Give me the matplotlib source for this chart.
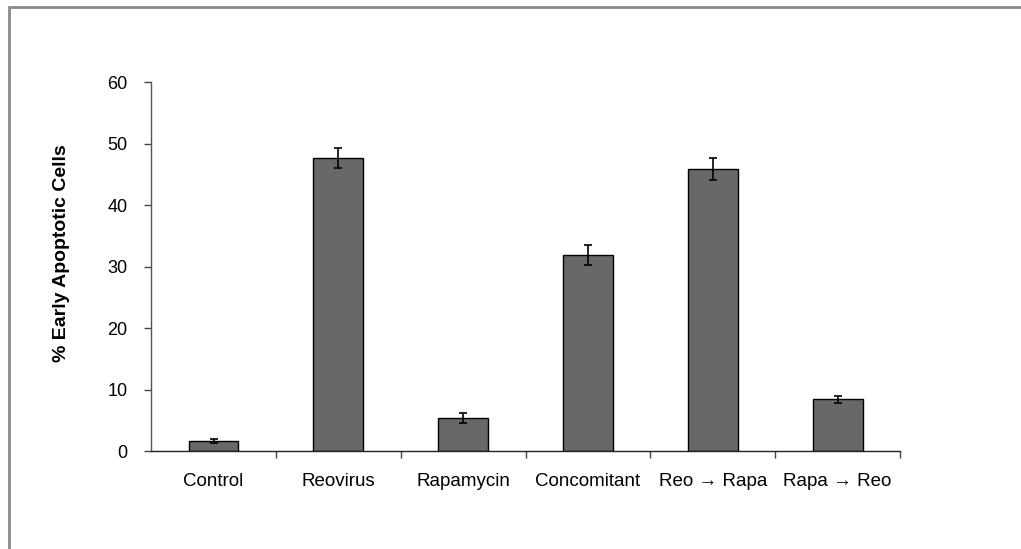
import matplotlib.pyplot as plt
from matplotlib.patches import Rectangle
import numpy as np

plt.rcParams['font.family'] = ['Liberation Sans', 'DejaVu Sans']

groups = ['Control', 'Reovirus', 'Rapamycin', 'Concomitant', 'Reo \u2192 Rapa', 'Rapa \u2192 Reo']
values = [1.6, 47.6, 5.4, 31.9, 45.9, 8.4]
errors = [0.3, 1.6, 0.8, 1.6, 1.8, 0.6]

fig = plt.figure(figsize=(10.21, 5.49), dpi=100)
ax = fig.add_axes([0.148, 0.1785, 0.7335, 0.672])

x = np.arange(len(groups))
ax.bar(x, values, width=0.4, color='#686868', edgecolor='black', linewidth=1.0, zorder=2)
ax.errorbar(x, values, yerr=errors, fmt='none', ecolor='black', elinewidth=1.2,
            capsize=3, capthick=1.2, zorder=3)

ax.set_xlim(-0.5, len(groups) - 0.5)
ax.set_ylim(0, 60)
ax.set_yticks(range(0, 61, 10))
ax.set_xticks(x)
ax.set_xticklabels(groups, fontsize=13.5)
ax.set_xticks(np.arange(0.5, len(groups), 1.0), minor=True)
ax.tick_params(axis='x', which='major', length=0, pad=16)
ax.tick_params(axis='x', which='minor', length=5, width=1, color='#444444', direction='out')
ax.tick_params(axis='y', length=5, width=1, color='#444444', labelsize=13, pad=12)

for s in ['top', 'right']:
    ax.spines[s].set_visible(False)
ax.spines['left'].set_color('#555555')
ax.spines['bottom'].set_color('#222222')
ax.spines['left'].set_linewidth(1.0)
ax.spines['bottom'].set_linewidth(1.0)

ax.set_ylabel('% Early Apoptotic Cells', fontsize=14, fontweight='bold')
ax.yaxis.set_label_coords(-0.108, 0.537)

# grey frame around the picture
fig.patches.append(Rectangle((9 / 1021, -0.05), 1.1, 1 - 7 / 549 + 0.05,
                             transform=fig.transFigure, fill=False,
                             edgecolor='#8a8a8a', linewidth=2))

fig.savefig('out.png', dpi=100)
